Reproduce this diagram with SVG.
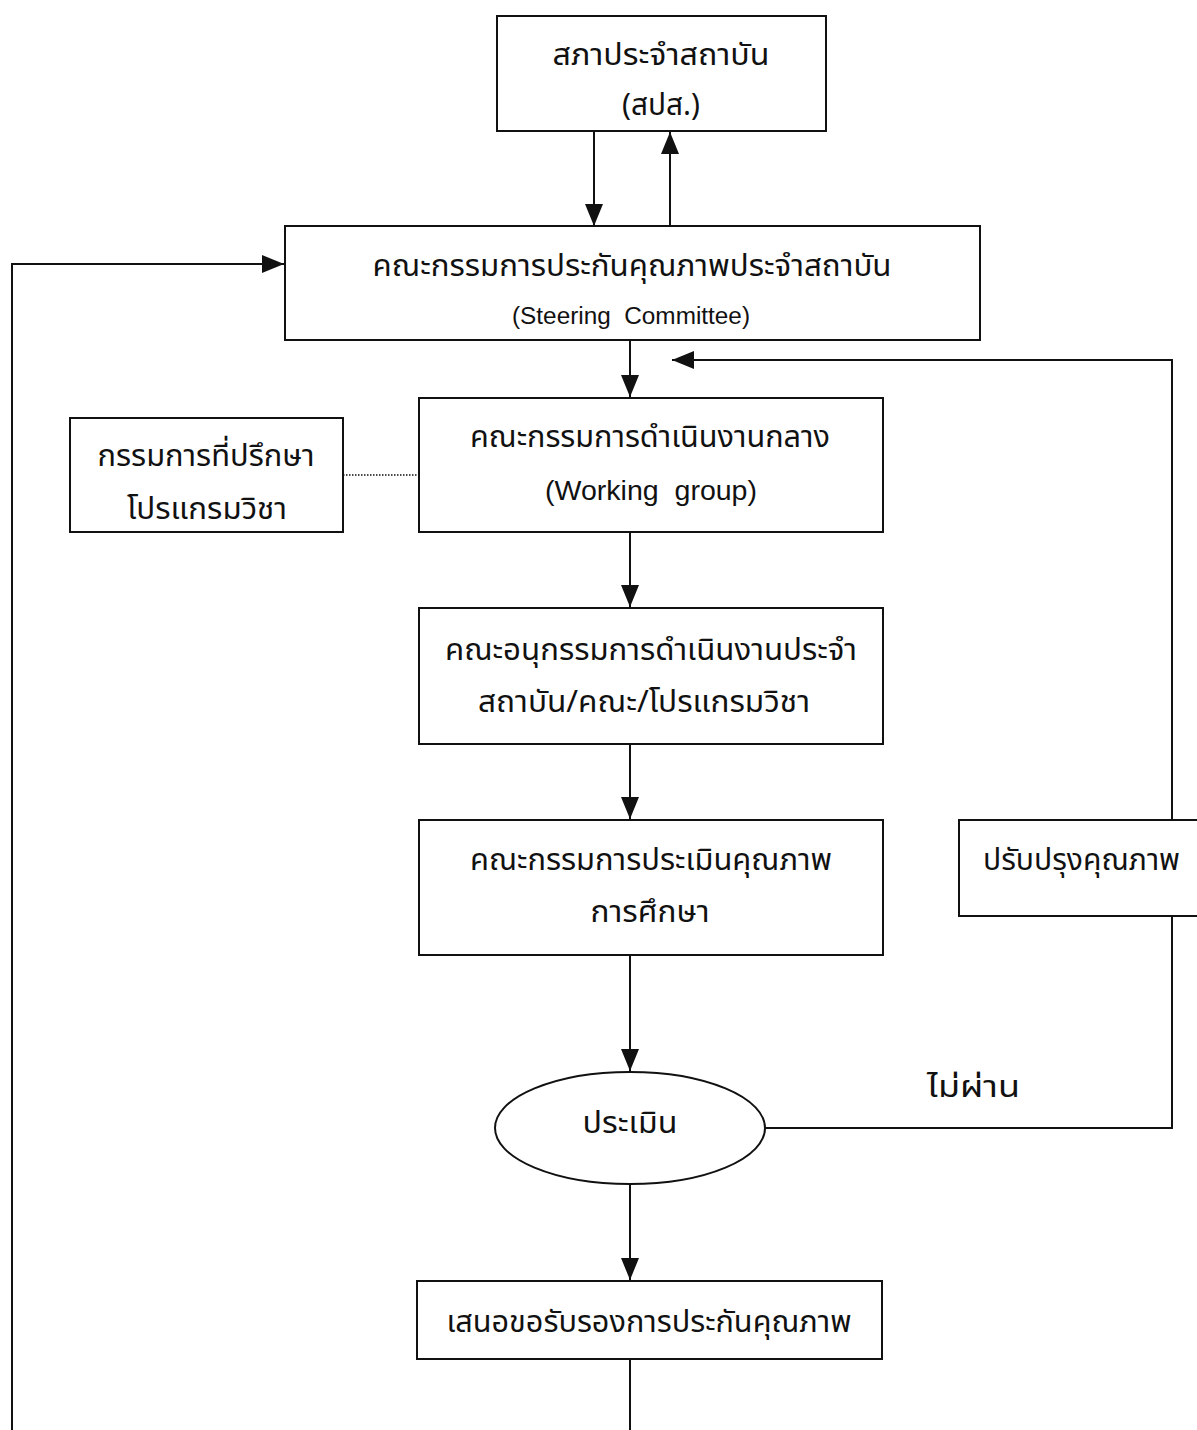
<svg xmlns="http://www.w3.org/2000/svg" width="1197" height="1430" viewBox="0 0 1197 1430">
<style>
.box{fill:#fff;stroke:#111;stroke-width:2}
.ln{fill:none;stroke:#111;stroke-width:2}
.th{font-family:"Noto Sans Thai","Loma","Garuda","Tlwg Typo","Liberation Sans","Noto Sans",sans-serif;font-size:30px;fill:#111}
.en{font-family:"Liberation Sans",Arial,sans-serif;fill:#111}
</style>
<defs>
<marker id="ah" viewBox="0 0 22 18" refX="22" refY="9" markerWidth="22" markerHeight="18" markerUnits="userSpaceOnUse" orient="auto">
<path d="M0,0 L22,9 L0,18 Z" fill="#111"/>
</marker>
</defs>
<rect width="1197" height="1430" fill="#fff"/>
<g id="connectors">
<line class="ln" x1="594" y1="131" x2="594" y2="226" marker-end="url(#ah)"/>
<line class="ln" x1="670" y1="226" x2="670" y2="132" marker-end="url(#ah)"/>
<polyline class="ln" points="12,1430 12,264 284,264" marker-end="url(#ah)"/>
<line class="ln" x1="630" y1="340" x2="630" y2="397" marker-end="url(#ah)"/>
<polyline class="ln" points="1172,820 1172,360 672,360" marker-end="url(#ah)"/>
<line x1="343" y1="475" x2="419" y2="475" stroke="#111" stroke-width="1.5" stroke-dasharray="1.5,1.5"/>
<line class="ln" x1="630" y1="532" x2="630" y2="607" marker-end="url(#ah)"/>
<line class="ln" x1="630" y1="744" x2="630" y2="819" marker-end="url(#ah)"/>
<line class="ln" x1="630" y1="955" x2="630" y2="1071" marker-end="url(#ah)"/>
<polyline class="ln" points="765,1128 1172,1128 1172,916"/>
<line class="ln" x1="630" y1="1184" x2="630" y2="1280" marker-end="url(#ah)"/>
<line class="ln" x1="630" y1="1359" x2="630" y2="1430"/>
</g>
<g id="node-council">
<rect class="box" x="497" y="16" width="329" height="115"/>
<text class="th" x="661" y="65" text-anchor="middle" textLength="217" lengthAdjust="spacingAndGlyphs">สภาประจำสถาบัน</text>
<text class="th" x="661" y="115" text-anchor="middle" textLength="78" lengthAdjust="spacingAndGlyphs">(สปส.)</text>
</g>
<g id="node-steering">
<rect class="box" x="285" y="226" width="695" height="114"/>
<text class="th" x="632" y="276" text-anchor="middle" textLength="519" lengthAdjust="spacingAndGlyphs">คณะกรรมการประกันคุณภาพประจำสถาบัน</text>
<text class="en" x="631" y="324" text-anchor="middle" font-size="23" xml:space="preserve" textLength="238" lengthAdjust="spacingAndGlyphs">(Steering  Committee)</text>
</g>
<g id="node-advisor">
<rect class="box" x="70" y="418" width="273" height="114"/>
<text class="th" x="206" y="466" text-anchor="middle" textLength="217" lengthAdjust="spacingAndGlyphs">กรรมการที่ปรึกษา</text>
<text class="th" x="207" y="519" text-anchor="middle" textLength="160" lengthAdjust="spacingAndGlyphs">โปรแกรมวิชา</text>
</g>
<g id="node-working">
<rect class="box" x="419" y="398" width="464" height="134"/>
<text class="th" x="650" y="447" text-anchor="middle" textLength="360" lengthAdjust="spacingAndGlyphs">คณะกรรมการดำเนินงานกลาง</text>
<text class="en" x="651" y="500" text-anchor="middle" font-size="27" xml:space="preserve" textLength="212" lengthAdjust="spacingAndGlyphs">(Working  group)</text>
</g>
<g id="node-subcommittee">
<rect class="box" x="419" y="608" width="464" height="136"/>
<text class="th" x="651" y="660" text-anchor="middle" textLength="412" lengthAdjust="spacingAndGlyphs">คณะอนุกรรมการดำเนินงานประจำ</text>
<text class="th" x="644" y="712" text-anchor="middle" textLength="332" lengthAdjust="spacingAndGlyphs">สถาบัน/คณะ/โปรแกรมวิชา</text>
</g>
<g id="node-assessment">
<rect class="box" x="419" y="820" width="464" height="135"/>
<text class="th" x="651" y="870" text-anchor="middle" textLength="362" lengthAdjust="spacingAndGlyphs">คณะกรรมการประเมินคุณภาพ</text>
<text class="th" x="650" y="922" text-anchor="middle" textLength="119" lengthAdjust="spacingAndGlyphs">การศึกษา</text>
</g>
<g id="node-improve">
<rect class="box" x="959" y="820" width="250" height="96"/>
<text class="th" x="983" y="870" textLength="197" lengthAdjust="spacingAndGlyphs">ปรับปรุงคุณภาพ</text>
</g>
<g id="node-evaluate">
<ellipse class="box" cx="630" cy="1128" rx="135" ry="56"/>
<text class="th" x="630" y="1133" text-anchor="middle" textLength="95" lengthAdjust="spacingAndGlyphs">ประเมิน</text>
</g>
<g id="label-fail">
<text class="th" x="927" y="1097" textLength="93" lengthAdjust="spacingAndGlyphs">ไม่ผ่าน</text>
</g>
<g id="node-certify">
<rect class="box" x="417" y="1281" width="465" height="78"/>
<text class="th" x="649" y="1332" text-anchor="middle" textLength="405" lengthAdjust="spacingAndGlyphs">เสนอขอรับรองการประกันคุณภาพ</text>
</g>
</svg>
